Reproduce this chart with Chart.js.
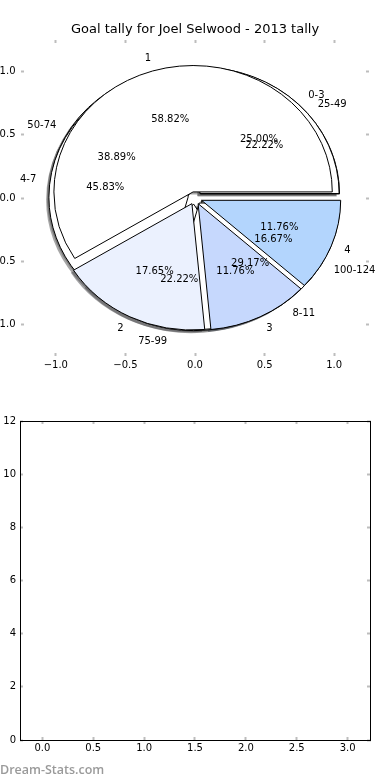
<!DOCTYPE html>
<html>
<head>
<meta charset="utf-8">
<script src="https://cdn.jsdelivr.net/npm/chart.js@4.4.1/dist/chart.umd.min.js"></script>
<style>
  html, body { margin: 0; padding: 0; background: #fff; }
  #wrap { width: 390px; height: 780px; }
  canvas { display: block; }
</style>
</head>
<body>
<div id="wrap">
  <canvas id="pies" width="390" height="390"></canvas>
  <canvas id="empty" width="390" height="390"></canvas>
</div>
<script>
/* global Chart */

const chartTitle = 'Goal tally for Joel Selwood - 2013 tally';

// goals per game (front pie)
const goalLabels = ['1', '2', '3', '4'];
const goalCounts = [10, 3, 2, 2];
// winning margin
const marginLabels = ['0-3', '4-7', '8-11'];
const marginCounts = [6, 11, 7];
// disposals
const disposalLabels = ['25-49', '50-74', '75-99', '100-124'];
const disposalCounts = [4, 7, 4, 3];

const goalColors = ['#ffffff', '#ebf1fe', '#c6d8fd', '#b3d5fd'];
const backColors = ['#ffffff', '#ffffff', '#ffffff', '#ffffff'];

// tick labels
const pieTicks = [-1.0, -0.5, 0.0, 0.5, 1.0];
const lowerXTicks = [0.0, 0.5, 1.0, 1.5, 2.0, 2.5, 3.0];
const lowerYTicks = [0, 2, 4, 6, 8, 10, 12];

// back to front, like the original plot
const pies = [
  { labels: disposalLabels, values: disposalCounts, colors: backColors },
  { labels: marginLabels,   values: marginCounts,   colors: backColors },
  { labels: goalLabels,     values: goalCounts,     colors: goalColors },
];

const FONT = '"DejaVu Sans", sans-serif';
const EXPLODE = 0.05;
const SHADOW = -0.02;

Chart.defaults.font.family = FONT;
Chart.defaults.color = '#000';

const fmtTick = (v) => (v < 0 ? '\u2212' : '') + Math.abs(v).toFixed(1);

// wedge angles (counter-clockwise from 3 o'clock), exploded centres, percents
function wedges(values, colors) {
  const total = values.reduce((a, b) => a + b, 0);
  let t = 0;
  return values.map((v, i) => {
    const t1 = t;
    const t2 = t + (v / total) * 2 * Math.PI;
    t = t2;
    const mid = (t1 + t2) / 2;
    return {
      t1, t2, mid,
      cx: EXPLODE * Math.cos(mid),
      cy: EXPLODE * Math.sin(mid),
      color: colors[i],
      pct: ((v / total) * 100).toFixed(2) + '%',
    };
  });
}

function shade(hex) {
  const n = parseInt(hex.slice(1), 16);
  const r = ((n >> 16) & 255) * 0.3, g = ((n >> 8) & 255) * 0.3, b = (n & 255) * 0.3;
  return `rgba(${r},${g},${b},0.5)`;
}

const pieLayers = {
  id: 'pieLayers',
  afterDatasetsDraw(chart) {
    const { ctx, scales: { x, y } } = chart;
    const px = (v) => x.getPixelForValue(v);
    const py = (v) => y.getPixelForValue(v);
    const rx = px(1) - px(0);
    const ry = py(0) - py(1);
    const layers = pies.map((p) => ({ ...p, w: wedges(p.values, p.colors) }));

    const path = (w, ox, oy) => {
      const cx = px(w.cx + ox), cy = py(w.cy + oy);
      ctx.beginPath();
      ctx.moveTo(cx, cy);
      ctx.ellipse(cx, cy, rx, ry, 0, -w.t1, -w.t2, true);
      ctx.closePath();
    };

    ctx.save();
    ctx.lineWidth = 1;
    ctx.lineJoin = 'miter';
    // shadows sit under every wedge
    layers.forEach((p) => p.w.forEach((w) => {
      path(w, SHADOW, SHADOW);
      ctx.fillStyle = shade(w.color);
      ctx.fill();
    }));
    layers.forEach((p) => p.w.forEach((w) => {
      path(w, 0, 0);
      ctx.fillStyle = w.color;
      ctx.fill();
      ctx.strokeStyle = '#000';
      ctx.stroke();
    }));

    ctx.font = '10px ' + FONT;
    ctx.fillStyle = '#000';
    ctx.textBaseline = 'middle';
    layers.forEach((p) => p.w.forEach((w, i) => {
      const lx = w.cx + 1.1 * Math.cos(w.mid);
      const ly = w.cy + 1.1 * Math.sin(w.mid);
      ctx.textAlign = lx > 0 ? 'left' : 'right';
      ctx.fillText(p.labels[i], px(lx), py(ly));
      ctx.textAlign = 'center';
      ctx.fillText(w.pct, px(w.cx + 0.6 * Math.cos(w.mid)), py(w.cy + 0.6 * Math.sin(w.mid)));
    }));
    ctx.restore();
  },
};

const tickGrid = {
  display: true,
  drawOnChartArea: false,
  drawTicks: true,
  tickLength: -3,
  tickWidth: 2,
  tickColor: '#bdbdbd',
};

function axis(position, min, max, tickList, size, opts) {
  return {
    type: 'linear',
    position,
    min,
    max,
    border: opts.border,
    grid: tickGrid,
    ticks: {
      display: opts.labels,
      padding: opts.padding || 0,
      autoSkip: false,
      maxRotation: 0,
      font: { size: 10 },
      color: '#000',
      callback: opts.fmt,
    },
    afterBuildTicks: (s) => { s.ticks = tickList.map((v) => ({ value: v })); },
    afterFit: (s) => {
      if (s.isHorizontal()) s.height = size; else s.width = size;
    },
  };
}

const noBorder = { display: false };
const blackBorder = { display: true, color: '#000', width: 1 };

new Chart(document.getElementById('pies'), {
  type: 'scatter',
  data: { datasets: [] },
  options: {
    responsive: false,
    animation: false,
    events: [],
    layout: { padding: 0 },
    plugins: {
      legend: { display: false },
      tooltip: { enabled: false },
      title: {
        display: true,
        text: chartTitle,
        color: '#000',
        font: { size: 13, weight: 'normal' },
        padding: { top: 22, bottom: 2.4 },
      },
    },
    scales: {
      x:  axis('bottom', -1.25, 1.25, pieTicks, 34, { border: noBorder, labels: true, padding: 6, fmt: fmtTick }),
      x2: axis('top',    -1.25, 1.25, pieTicks, 0,  { border: noBorder, labels: false }),
      y:  axis('left',   -1.25, 1.25, pieTicks, 21, { border: noBorder, labels: true, padding: 8.5, fmt: fmtTick }),
      y2: axis('right',  -1.25, 1.25, pieTicks, 21, { border: noBorder, labels: false }),
    },
  },
  plugins: [pieLayers],
});

const watermark = {
  id: 'watermark',
  afterDraw(chart) {
    const { ctx } = chart;
    ctx.save();
    ctx.font = '600 12.5px "Open Sans", sans-serif';
    ctx.fillStyle = '#9a9a9a';
    ctx.textAlign = 'left';
    ctx.textBaseline = 'middle';
    ctx.fillText('Dream-Stats.com', 0, 380);
    ctx.restore();
  },
};

new Chart(document.getElementById('empty'), {
  type: 'scatter',
  data: { datasets: [] },
  options: {
    responsive: false,
    animation: false,
    events: [],
    layout: { padding: 0 },
    plugins: {
      legend: { display: false },
      tooltip: { enabled: false },
    },
    scales: {
      x:  axis('bottom', -0.22, 3.22, lowerXTicks, 40, { border: blackBorder, labels: true, padding: 5, fmt: (v) => v.toFixed(1) }),
      x2: axis('top',    -0.22, 3.22, lowerXTicks, 31, { border: blackBorder, labels: false }),
      y:  axis('left',   0, 12, lowerYTicks, 20, { border: blackBorder, labels: true, padding: 7, fmt: (v) => String(v) }),
      y2: axis('right',  0, 12, lowerYTicks, 20, { border: blackBorder, labels: false }),
    },
  },
  plugins: [watermark],
});
</script>
</body>
</html>
